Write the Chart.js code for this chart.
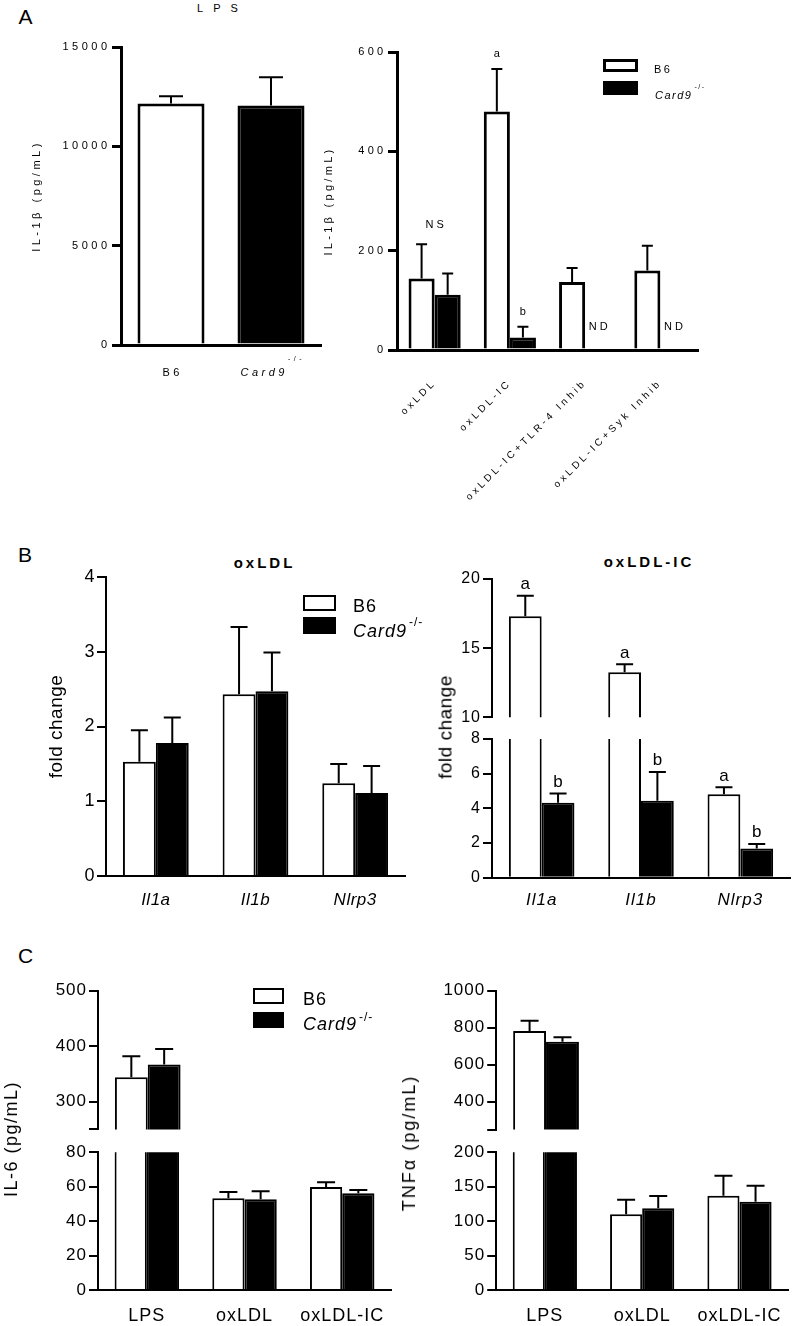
<!DOCTYPE html>
<html><head><meta charset="utf-8">
<title>IL-1β / cytokines – B6 vs Card9-/-</title>
<script src="https://cdn.jsdelivr.net/npm/chart.js@4.4.1/dist/chart.umd.min.js"></script>
<style>
html,body{margin:0;padding:0;background:#fff}
body{position:relative;width:797px;height:1326px;overflow:hidden;font-family:'Liberation Sans',Arial,Helvetica,sans-serif;color:#000}
canvas{position:absolute}
.t{position:absolute;white-space:nowrap;line-height:1}
.box{position:absolute;box-sizing:border-box;border-style:solid;border-color:#000}
.sup{position:relative;font-style:normal;margin-left:2px}
</style></head><body>
<script>
// ---------------- DATA ----------------
// Panel A (left): IL-1β after LPS
const aLpsCats = ['B6', 'Card9'];
const aLpsSup = ['', '-/-'];
const aLpsMean = [12150, 12050];
const aLpsSem = [370, 1430];
const aLpsTicks = [0, 5000, 10000, 15000];

// Panel A (right): IL-1β
const aCats = ['oxLDL', 'oxLDL-IC', 'oxLDL-IC+TLR-4 Inhib', 'oxLDL-IC+Syk Inhib'];
const aB6Mean = [144, 480, 137, 160];
const aB6Sem = [69, 86, 28, 50];
const aKOMean = [111, 25, null, null];
const aKOSem = [43, 22, null, null];
const aB6Sig = ['', 'a', '', ''];
const aKOSig = ['', 'b', 'ND', 'ND'];
const aGroupSig = ['NS', '', '', ''];
const aTicks = [0, 200, 400, 600];

// Panel B: fold change
const bCats = ['Il1a', 'Il1b', 'Nlrp3'];
const bOxB6Mean = [1.53, 2.43, 1.24];
const bOxB6Sem = [0.42, 0.90, 0.26];
const bOxKOMean = [1.78, 2.47, 1.11];
const bOxKOSem = [0.34, 0.52, 0.36];
const bOxTicks = [0, 1, 2, 3, 4];
const bIcB6Mean = [17.3, 13.25, 4.82];
const bIcB6Sem = [1.48, 0.58, 0.39];
const bIcKOMean = [4.32, 4.44, 1.69];
const bIcKOSem = [0.54, 1.65, 0.25];
const bIcB6Sig = ['a', 'a', 'a'];
const bIcKOSig = ['b', 'b', 'b'];
const bIcUpperTicks = [10, 15, 20];
const bIcLowerTicks = [0, 2, 4, 6, 8];

// Panel C: IL-6 and TNFα
const cCats = ['LPS', 'oxLDL', 'oxLDL-IC'];
const cIl6B6Mean = [344, 53.3, 59.9];
const cIl6B6Sem = [38, 3.7, 2.7];
const cIl6KOMean = [367, 52.7, 56.2];
const cIl6KOSem = [28, 4.7, 1.9];
const cIl6UpperTicks = [250, 300, 400, 500];
const cIl6LowerTicks = [0, 20, 40, 60, 80];
const cTnfB6Mean = [782, 110, 137];
const cTnfB6Sem = [56, 21, 29];
const cTnfKOMean = [724, 118.7, 128.3];
const cTnfKOSem = [24, 18, 23];
const cTnfUpperTicks = [250, 400, 600, 800, 1000];
const cTnfLowerTicks = [0, 50, 100, 150, 200];
const breakTicks = [250]; // tick marks at the axis break, drawn without a label

// ---------------- HELPERS ----------------
const FONT = "'Liberation Sans', Arial, Helvetica, sans-serif";
Chart.defaults.font.family = FONT;
Chart.defaults.color = '#000';

function spacingPlugin(px) {
  return {
    id: 'spacing',
    beforeUpdate(c) { c.ctx.letterSpacing = px + 'px'; },
    beforeDraw(c) { c.ctx.letterSpacing = px + 'px'; }
  };
}

function errorBarPlugin(o) {
  return {
    id: 'errbars',
    afterDatasetsDraw(chart) {
      const ctx = chart.ctx, ys = chart.scales.y, xs = chart.scales.x;
      ctx.save();
      ctx.letterSpacing = (o.ls || 0) + 'px';
      ctx.strokeStyle = '#000'; ctx.fillStyle = '#000'; ctx.lineWidth = o.lw;
      ctx.font = o.sigFont || ('11px ' + FONT);
      ctx.textAlign = 'center'; ctx.textBaseline = 'middle';
      const tops = [];
      chart.data.datasets.forEach((ds, di) => {
        const meta = chart.getDatasetMeta(di);
        meta.data.forEach((bar, i) => {
          const v = ds.data[i], e = ds.err ? ds.err[i] : null;
          let topPix = null;
          if (v != null && e != null && v >= ys.min && v <= ys.max) {
            const x = bar.x, y0 = ys.getPixelForValue(v), y1 = ys.getPixelForValue(v + e);
            ctx.beginPath();
            ctx.moveTo(x, y0); ctx.lineTo(x, y1);
            ctx.moveTo(x - o.cap / 2, y1); ctx.lineTo(x + o.cap / 2, y1);
            ctx.stroke();
            topPix = y1;
            tops[i] = Math.min(tops[i] === undefined ? Infinity : tops[i], y1);
          }
          const s = ds.sig ? ds.sig[i] : '';
          if (s) {
            const dx = (o.ls || 0) / 2;
            if (v == null) {
              ctx.fillText(s, bar.x + dx, ys.getPixelForValue(0) - o.ndGap);
            } else if (topPix !== null) {
              ctx.fillText(s, bar.x + dx, topPix - o.gap);
            }
          }
        });
      });
      if (o.groupSig) {
        o.groupSig.forEach((s, i) => {
          if (s && tops[i] !== undefined) ctx.fillText(s, xs.getPixelForValue(i) + (o.ls || 0) / 2, tops[i] - o.groupGap);
        });
      }
      ctx.restore();
    }
  };
}

function catLabelPlugin(o) {
  return {
    id: 'catlabels',
    afterDraw(chart) {
      const ctx = chart.ctx, xs = chart.scales.x;
      ctx.save();
      ctx.letterSpacing = o.ls + 'px';
      ctx.fillStyle = '#000'; ctx.textBaseline = 'middle'; ctx.textAlign = 'left';
      o.cats.forEach((c, i) => {
        const f1 = (o.italic[i] ? 'italic ' : '') + o.size + 'px ' + FONT;
        const f2 = o.supSize + 'px ' + FONT;
        ctx.font = f1; const w1 = ctx.measureText(c).width;
        ctx.font = f2; const w2 = o.sup[i] ? ctx.measureText(o.sup[i]).width : 0;
        const cx = xs.getPixelForValue(i), y = chart.chartArea.bottom + o.dy;
        const x = cx - (w1 + w2 - o.ls) / 2;
        ctx.font = f1; ctx.fillText(c, x, y);
        if (o.sup[i]) { ctx.font = f2; ctx.fillText(o.sup[i], x + w1, y - o.supDy); }
      });
      ctx.restore();
    }
  };
}

function barChart(o) {
  const cv = document.createElement('canvas');
  cv.width = o.w; cv.height = o.h;
  Object.assign(cv.style, { left: o.x + 'px', top: o.y + 'px', width: o.w + 'px', height: o.h + 'px' });
  document.body.appendChild(cv);
  const A = o.area;
  const yW = A.l - o.x, padTop = A.t - o.y, padRight = o.x + o.w - A.r, below = o.y + o.h - A.b;
  const xShown = o.xMode !== 'hidden';
  const datasets = o.series.map(s => ({
    label: s.label, data: s.data, err: s.err, sig: s.sig,
    backgroundColor: s.color, borderColor: '#000', borderWidth: o.barBorder, borderSkipped: 'start',
    categoryPercentage: o.catPct, barPercentage: o.barPct, clip: 0
  }));
  const hide = o.yHide || [];
  return new Chart(cv, {
    type: 'bar',
    data: { labels: o.cats, datasets },
    options: {
      responsive: false, animation: false, devicePixelRatio: 1, events: [],
      layout: { padding: { left: 0, top: padTop, right: padRight, bottom: xShown ? 0 : below } },
      plugins: { legend: { display: false }, tooltip: { enabled: false }, title: { display: false } },
      scales: {
        x: {
          type: 'category', display: xShown, offset: true,
          afterFit: s => { s.height = xShown ? below : 0; },
          grid: { display: false, drawTicks: false },
          border: { display: true, color: '#000', width: o.axisW },
          ticks: {
            display: o.xMode === 'chart', color: '#000', font: o.xFont, padding: o.xPad || 0,
            minRotation: o.rot || 0, maxRotation: o.rot || 0, autoSkip: false
          }
        },
        y: {
          min: o.yMin, max: o.yMax,
          afterBuildTicks: s => { s.ticks = o.yTicks.map(v => ({ value: v })); },
          afterFit: s => { s.width = yW; },
          grid: {
            display: true, drawOnChartArea: false, drawTicks: true, tickLength: o.tickLen,
            tickWidth: o.axisW, tickColor: '#000', color: '#000', lineWidth: o.axisW
          },
          border: { display: true, color: '#000', width: o.axisW },
          ticks: {
            color: '#000', font: o.yFont, padding: o.yPad,
            callback: v => hide.includes(v) ? '' : String(v)
          },
          title: o.yTitle ? {
            display: true, text: o.yTitle, color: '#000',
            font: { family: FONT, size: o.yTitleSize }, padding: { top: o.yTitlePad, bottom: 0 }
          } : { display: false }
        }
      }
    },
    plugins: [spacingPlugin(o.ls), errorBarPlugin(o.err)].concat(o.extraPlugins || [])
  });
}

function addText(html, x, y, css, mode) {
  const d = document.createElement('div');
  d.className = 't'; d.innerHTML = html; d.style.cssText += css;
  d.style.left = x + 'px'; d.style.top = y + 'px';
  d.style.transform = mode === 'left' ? 'translateY(-50%)'
    : mode === 'rot' ? 'translate(-50%,-50%) rotate(-90deg)' : 'translate(-50%,-50%)';
  document.body.appendChild(d);
  return d;
}
function addBox(x, y, w, h, fill, bw) {
  const d = document.createElement('div');
  d.className = 'box';
  Object.assign(d.style, { left: x + 'px', top: y + 'px', width: w + 'px', height: h + 'px', background: fill, borderWidth: bw + 'px' });
  document.body.appendChild(d);
}
const KO = (size, raise) => `<i>Card9</i><span class="sup" style="font-size:${size}px;top:${-raise}px">-/-</span>`;

// ---------------- PANEL A ----------------
addText('A', 25.5, 15.5, 'font-size:21px');
addText('LPS', 222.5, 7.5, 'font-size:11px;letter-spacing:10px');

barChart({
  x: 0, y: 35, w: 326, h: 370, area: { l: 121, t: 47, r: 321, b: 345 },
  cats: aLpsCats,
  series: [{ label: 'IL-1β LPS', data: aLpsMean, err: aLpsSem, color: ['#fff', '#000'] }],
  catPct: 1, barPct: 0.67, barBorder: 3, axisW: 3, tickLen: 9, ls: 3.5,
  yMin: 0, yMax: 15000, yTicks: aLpsTicks, yFont: { family: FONT, size: 11 }, yPad: 1.5,
  yTitle: 'IL-1β (pg/mL)', yTitleSize: 11, yTitlePad: 30.4,
  xMode: 'custom',
  err: { lw: 2, cap: 24, ls: 3.5 },
  extraPlugins: [catLabelPlugin({ cats: aLpsCats, sup: aLpsSup, italic: [false, true], size: 11, ls: 3.5, supSize: 7, supDy: 13, dy: 27.5 })]
});

barChart({
  x: 322, y: 35, w: 475, h: 485, area: { l: 397, t: 52, r: 698, b: 350 },
  cats: aCats,
  series: [
    { label: 'B6', data: aB6Mean, err: aB6Sem, sig: aB6Sig, color: '#fff' },
    { label: 'Card9-/-', data: aKOMean, err: aKOSem, sig: aKOSig, color: '#000' }
  ],
  catPct: 0.693, barPct: 1, barBorder: 3, axisW: 3, tickLen: 9, ls: 3.3,
  yMin: 0, yMax: 600, yTicks: aTicks, yFont: { family: FONT, size: 11 }, yPad: 1.5,
  yTitle: 'IL-1β (pg/mL)', yTitleSize: 11, yTitlePad: 0.4,
  xMode: 'chart', xFont: { family: FONT, size: 10 }, xPad: 27, rot: 45,
  err: { lw: 2, cap: 11, ls: 3, sigFont: '11px ' + FONT, gap: 15, ndGap: 23, groupSig: aGroupSig, groupGap: 19 }
});

addBox(603, 59, 35, 13, '#fff', 3);
addBox(603, 80.7, 35, 14, '#000', 3);
addText('B6', 654, 68.5, 'font-size:11px;letter-spacing:2.5px', 'left');
addText(KO(7, 10), 655, 94.5, 'font-size:11px;letter-spacing:1.5px', 'left');

// ---------------- PANEL B ----------------
addText('B', 25, 553.5, 'font-size:21px');
addText('oxLDL', 264.5, 562, 'font-size:15px;font-weight:bold;letter-spacing:3px');
addText('oxLDL-IC', 649, 561, 'font-size:15px;font-weight:bold;letter-spacing:3px');

barChart({
  x: 0, y: 560, w: 410, h: 360, area: { l: 106, t: 577, r: 405, b: 876 },
  cats: bCats,
  series: [
    { label: 'B6', data: bOxB6Mean, err: bOxB6Sem, color: '#fff' },
    { label: 'Card9-/-', data: bOxKOMean, err: bOxKOSem, color: '#000' }
  ],
  catPct: 0.66, barPct: 1, barBorder: 2, axisW: 2, tickLen: 9, ls: 0.5,
  yMin: 0, yMax: 4, yTicks: bOxTicks, yFont: { family: FONT, size: 18 }, yPad: 2,
  yTitle: 'fold change', yTitleSize: 19, yTitlePad: 45.6,
  xMode: 'chart', xFont: { family: FONT, size: 17, style: 'italic' }, xPad: 13.8,
  err: { lw: 2, cap: 17 }
});
addBox(303, 595, 33, 16, '#fff', 2);
addBox(303, 617, 33, 17, '#000', 2);
addText('B6', 353, 606, 'font-size:18px;letter-spacing:1px', 'left');
addText(KO(12, 11), 353, 631, 'font-size:18px;letter-spacing:1px', 'left');

const bIcSeries = [
  { label: 'B6', data: bIcB6Mean, err: bIcB6Sem, sig: bIcB6Sig, color: '#fff' },
  { label: 'Card9-/-', data: bIcKOMean, err: bIcKOSem, sig: bIcKOSig, color: '#000' }
];
barChart({
  x: 410, y: 560, w: 387, h: 170, area: { l: 492, t: 579, r: 790, b: 717.3 },
  cats: bCats, series: bIcSeries,
  catPct: 0.66, barPct: 1, barBorder: 2, axisW: 2, tickLen: 9, ls: 1,
  yMin: 10, yMax: 20, yTicks: bIcUpperTicks, yFont: { family: FONT, size: 16 }, yPad: 2,
  xMode: 'hidden',
  err: { lw: 2, cap: 17, sigFont: '17px ' + FONT, gap: 11.5 }
});
barChart({
  x: 410, y: 720, w: 387, h: 200, area: { l: 492, t: 739, r: 790, b: 877.7 },
  cats: bCats, series: bIcSeries,
  catPct: 0.66, barPct: 1, barBorder: 2, axisW: 2, tickLen: 9, ls: 1,
  yMin: 0, yMax: 8, yTicks: bIcLowerTicks, yFont: { family: FONT, size: 16 }, yPad: 2,
  xMode: 'chart', xFont: { family: FONT, size: 17, style: 'italic' }, xPad: 12,
  err: { lw: 2, cap: 17, sigFont: '17px ' + FONT, gap: 11.5 }
});
addText('fold change', 445, 726.5, 'font-size:19px;letter-spacing:0.5px', 'rot');

// ---------------- PANEL C ----------------
addText('C', 25.5, 955, 'font-size:21px');

const cIl6Series = [
  { label: 'B6', data: cIl6B6Mean, err: cIl6B6Sem, color: '#fff' },
  { label: 'Card9-/-', data: cIl6KOMean, err: cIl6KOSem, color: '#000' }
];
const cTnfSeries = [
  { label: 'B6', data: cTnfB6Mean, err: cTnfB6Sem, color: '#fff' },
  { label: 'Card9-/-', data: cTnfKOMean, err: cTnfKOSem, color: '#000' }
];
const cCommon = { cats: cCats, catPct: 0.66, barPct: 1, barBorder: 2, axisW: 2, tickLen: 9, ls: 1, yPad: 2,
  yFont: { family: FONT, size: 17 }, yHide: breakTicks, err: { lw: 2, cap: 18 } };

barChart(Object.assign({}, cCommon, {
  x: 0, y: 970, w: 400, h: 172, area: { l: 98, t: 990.7, r: 396.5, b: 1129.4 },
  series: cIl6Series, yMin: 250, yMax: 500, yTicks: cIl6UpperTicks, xMode: 'hidden'
}));
barChart(Object.assign({}, cCommon, {
  x: 0, y: 1132, w: 400, h: 194, area: { l: 98, t: 1152.3, r: 396.5, b: 1290 },
  series: cIl6Series, yMin: 0, yMax: 80, yTicks: cIl6LowerTicks,
  xMode: 'chart', xFont: { family: FONT, size: 18 }, xPad: 15.2
}));
barChart(Object.assign({}, cCommon, {
  x: 400, y: 970, w: 397, h: 172, area: { l: 496.2, t: 990.7, r: 795.2, b: 1129.5 },
  series: cTnfSeries, yMin: 250, yMax: 1000, yTicks: cTnfUpperTicks, xMode: 'hidden'
}));
barChart(Object.assign({}, cCommon, {
  x: 400, y: 1132, w: 397, h: 194, area: { l: 496.2, t: 1152.3, r: 795.2, b: 1290 },
  series: cTnfSeries, yMin: 0, yMax: 200, yTicks: cTnfLowerTicks,
  xMode: 'chart', xFont: { family: FONT, size: 18 }, xPad: 15.2
}));

addBox(253, 987.7, 31, 16.3, '#fff', 2);
addBox(253, 1011.7, 31, 16, '#000', 2);
addText('B6', 303, 999, 'font-size:18px;letter-spacing:1px', 'left');
addText(KO(12, 9), 303, 1024, 'font-size:18px;letter-spacing:1px', 'left');

addText('IL-6 (pg/mL)', 10.5, 1138.5, 'font-size:18px;letter-spacing:1.5px', 'rot');
addText('TNFα (pg/mL)', 408.5, 1142.5, 'font-size:18px;letter-spacing:2px', 'rot');
</script>
</body></html>
